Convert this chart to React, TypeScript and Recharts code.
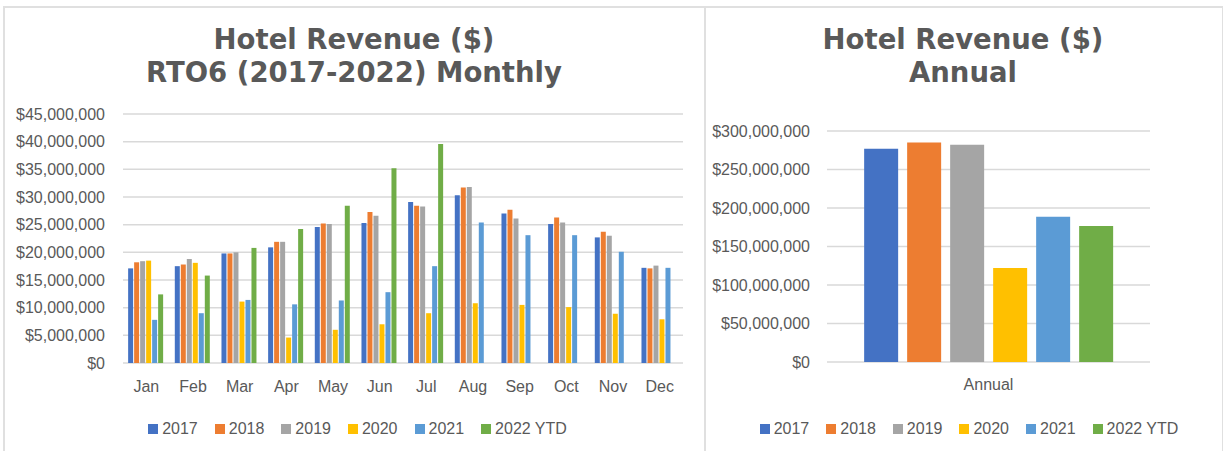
import React from "react"
import { BarChart, Bar, XAxis, YAxis, CartesianGrid, Legend } from "recharts"

// series labels and colours
const years = ["2017", "2018", "2019", "2020", "2021", "2022 YTD"]
const keys = ["y2017", "y2018", "y2019", "y2020", "y2021", "y2022"]
const colors = ["#4472C4", "#ED7D31", "#A5A5A5", "#FFC000", "#5B9BD5", "#70AD47"]

// monthly revenue, millions of dollars
const months = ["Jan", "Feb", "Mar", "Apr", "May", "Jun", "Jul", "Aug", "Sep", "Oct", "Nov", "Dec"]
const rev2017 = [17.1, 17.5, 19.8, 20.9, 24.6, 25.3, 29.1, 30.3, 27.0, 25.1, 22.7, 17.2]
const rev2018 = [18.2, 17.8, 19.8, 21.9, 25.2, 27.3, 28.4, 31.7, 27.7, 26.3, 23.7, 17.1]
const rev2019 = [18.4, 18.8, 20.0, 21.9, 25.1, 26.6, 28.3, 31.8, 26.1, 25.4, 23.0, 17.6]
const rev2020 = [18.5, 18.1, 11.1, 4.6, 6.0, 7.0, 9.0, 10.8, 10.5, 10.1, 8.9, 7.9]
const rev2021 = [7.8, 9.0, 11.4, 10.6, 11.3, 12.8, 17.5, 25.4, 23.1, 23.1, 20.1, 17.2]
const rev2022 = [12.4, 15.8, 20.8, 24.2, 28.4, 35.2, 39.6, null, null, null, null, null]

// annual totals, millions of dollars
const annualTotals = [277, 285, 282, 122, 188.5, 176.7]

const monthlyTicks = [0, 5, 10, 15, 20, 25, 30, 35, 40, 45]
const annualTicks = [0, 50, 100, 150, 200, 250, 300]

const monthlySeries = [rev2017, rev2018, rev2019, rev2020, rev2021, rev2022]
const monthlyData = months.map((m, i) => {
  const row: any = { month: m }
  keys.forEach((k, j) => {
    const v = monthlySeries[j][i]
    row[k] = v == null ? null : v * 1e6
  })
  return row
})

const annualRow: any = { name: "Annual" }
keys.forEach((k, j) => (annualRow[k] = annualTotals[j] * 1e6))
const annualData = [annualRow]

const FONT = "'Liberation Sans', Arial, sans-serif"
const GREY = "#595959"
const BORDER = "#e0e0e0"

const money = (v: number) => "$" + v.toLocaleString("en-US")

const tickStyle = { fill: GREY, fontSize: 16, fontFamily: FONT }

function LegendRow() {
  return (
    <div
      style={{
        display: "flex",
        justifyContent: "center",
        height: 20,
        lineHeight: "20px",
        paddingLeft: 10,
        fontFamily: FONT,
        fontSize: 16,
        color: GREY,
      }}
    >
      {years.map((y, i) => (
        <div key={y} style={{ display: "flex", alignItems: "center", marginRight: i < years.length - 1 ? 17 : 0 }}>
          <span style={{ width: 10, height: 10, background: colors[i], marginRight: 4, display: "inline-block" }} />
          <span>{y}</span>
        </div>
      ))}
    </div>
  )
}

const titleStyle: React.CSSProperties = {
  position: "absolute",
  top: 23,
  textAlign: "center",
  fontFamily: "'DejaVu Sans', Verdana, sans-serif",
  fontWeight: "bold",
  fontSize: 27.5,
  lineHeight: "33px",
  color: GREY,
}

export default function App() {
  return (
    <div style={{ position: "absolute", left: 0, top: 0, width: 1223, height: 451, background: "#fff", overflow: "hidden" }}>
      {/* panel frames */}
      <div style={{ position: "absolute", left: 3, top: 6, width: 1217, height: 460, border: `2px solid ${BORDER}` }} />
      <div style={{ position: "absolute", left: 704, top: 6, width: 2, height: 460, background: BORDER }} />

      <div style={{ ...titleStyle, left: 3, width: 702 }}>
        Hotel Revenue ($)
        <br />
        RTO6 (2017-2022) Monthly
      </div>
      <div style={{ ...titleStyle, left: 705, width: 516 }}>
        Hotel Revenue ($)
        <br />
        Annual
      </div>

      <div style={{ position: "absolute", left: 0, top: 0 }}>
        <BarChart
          width={705}
          height={451}
          data={monthlyData}
          margin={{ top: 114, right: 22, left: 13, bottom: 12 }}
          barCategoryGap="11%"
          barGap={1}
        >
          <CartesianGrid vertical={false} stroke="#d9d9d9" strokeWidth={1.5} />
          <XAxis dataKey="month" height={56} axisLine={false} tickLine={false} tick={tickStyle} tickMargin={12} interval={0} />
          <YAxis
            width={110}
            domain={[0, 45e6]}
            ticks={monthlyTicks.map((t) => t * 1e6)}
            tickFormatter={money}
            axisLine={false}
            tickLine={false}
            tick={tickStyle}
            tickMargin={12}
            interval={0}
          />
          <Legend verticalAlign="bottom" wrapperStyle={{ left: 0, width: 705 }} content={() => <LegendRow />} />
          {keys.map((k, i) => (
            <Bar key={k} dataKey={k} name={years[i]} fill={colors[i]} isAnimationActive={false} />
          ))}
        </BarChart>
      </div>

      <div style={{ position: "absolute", left: 705, top: 0 }}>
        <BarChart
          width={518}
          height={451}
          data={annualData}
          margin={{ top: 131, right: 73, left: 12, bottom: 12 }}
          barCategoryGap="11.5%"
          barGap={9}
        >
          <CartesianGrid vertical={false} stroke="#d9d9d9" strokeWidth={1.5} />
          <XAxis dataKey="name" height={57} axisLine={false} tickLine={false} tick={tickStyle} tickMargin={11} />
          <YAxis
            width={110}
            domain={[0, 300e6]}
            ticks={annualTicks.map((t) => t * 1e6)}
            tickFormatter={money}
            axisLine={false}
            tickLine={false}
            tick={tickStyle}
            tickMargin={11}
            interval={0}
          />
          <Legend verticalAlign="bottom" wrapperStyle={{ left: 0, width: 518 }} content={() => <LegendRow />} />
          {keys.map((k, i) => (
            <Bar key={k} dataKey={k} name={years[i]} fill={colors[i]} isAnimationActive={false} />
          ))}
        </BarChart>
      </div>
    </div>
  )
}
